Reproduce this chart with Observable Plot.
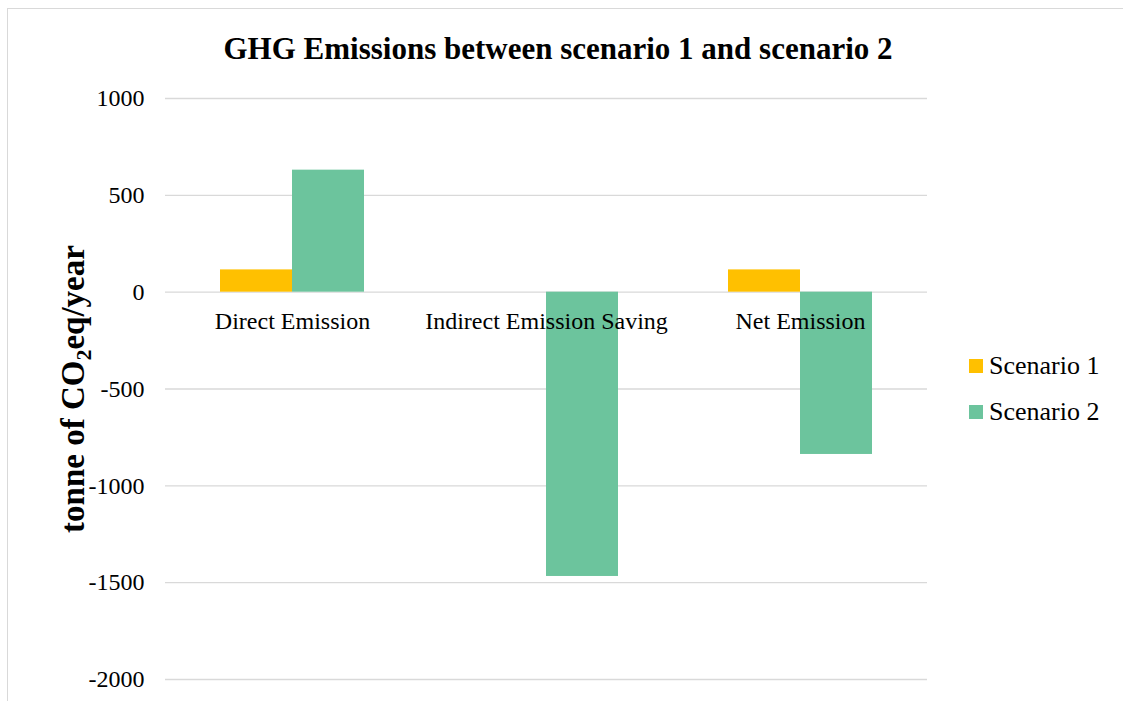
<!DOCTYPE html>
<html>
<head>
<meta charset="utf-8">
<script src="https://cdn.jsdelivr.net/npm/d3@7"></script>
<script src="https://cdn.jsdelivr.net/npm/@observablehq/plot@0.6"></script>
<style>
  body { margin: 0; background: #fff; font-family: "Liberation Serif", "Times New Roman", serif; }
  #wrap { position: relative; width: 1123px; height: 701px; overflow: hidden; background: #fff; }
  #frame { position: absolute; left: 7px; top: 8px; width: 1300px; height: 900px; border: 1.5px solid #d9d9d9; box-sizing: border-box; }
  #chart { position: absolute; left: 0; top: 0; }
  #title { position: absolute; left: 0; width: 1116px; top: 33px; line-height: 31px; text-align: center;
           font-weight: bold; font-size: 31px; color: #000; white-space: nowrap; }
  #ylab { position: absolute; left: 0; top: 0; }
  #legend { position: absolute; left: 969px; top: 349px; font-size: 26px; color: #000; }
  .item { display: flex; align-items: center; height: 33px; margin-bottom: 13px; }
  .sw { width: 14px; height: 14px; margin-right: 6px; }
</style>
</head>
<body>
<div id="wrap">
  <div id="frame"></div>
  <div id="chart"></div>
  <div id="title"></div>
  <svg id="ylab" width="1123" height="701"></svg>
  <div id="legend"></div>
</div>
<script>
const titleText = "GHG Emissions between scenario 1 and scenario 2";
const categories = ["Direct Emission", "Indirect Emission Saving", "Net Emission"];
const series = ["Scenario 1", "Scenario 2"];
const scenario1 = [115, 0, 115];
const scenario2 = [630, -1468, -838];
const colors = ["#FFC000", "#6CC49D"];
const yTicks = [1000, 500, 0, -500, -1000, -1500, -2000];

const data = categories.flatMap((c, i) => [
  {category: c, series: series[0], value: scenario1[i]},
  {category: c, series: series[1], value: scenario2[i]}
]);

const chart = Plot.plot({
  width: 1123,
  height: 701,
  marginLeft: 165,
  marginRight: 196,
  marginTop: 98,
  marginBottom: 22,
  style: "font-family:'Liberation Serif','Times New Roman',serif;font-size:24px;color:#000;background:transparent;overflow:visible;",
  fx: {domain: categories, padding: 0, axis: null, label: null},
  x: {domain: series, paddingInner: 0, paddingOuter: 0.742, axis: null},
  y: {domain: [-2000, 1000], ticks: yTicks, tickSize: 0, tickPadding: 21, label: null, tickFormat: d => String(d)},
  color: {domain: series, range: colors},
  marks: [
    Plot.ruleY(yTicks, {stroke: "#d9d9d9", strokeWidth: 1.3}),
    Plot.barY(data, {fx: "category", x: "series", y: "value", fill: "series"}),
    Plot.text(categories, {fx: d => d, y: 0, dy: 29, text: d => d, fontSize: 24, fill: "#000"})
  ]
});
document.getElementById("chart").appendChild(chart);

document.getElementById("title").textContent = titleText;

const ylab = d3.select("#ylab").append("text")
  .attr("transform", "translate(84,389) rotate(-90)")
  .attr("text-anchor", "middle")
  .attr("font-family", "'Liberation Serif','Times New Roman',serif")
  .attr("font-weight", "bold")
  .attr("font-size", 33)
  .attr("fill", "#000");
ylab.append("tspan").text("tonne of CO");
ylab.append("tspan").attr("dy", 7).attr("font-size", 22).text("2");
ylab.append("tspan").attr("dy", -7).text("eq/year");

const legend = d3.select("#legend");
series.forEach((s, i) => {
  const it = legend.append("div").attr("class", "item");
  it.append("div").attr("class", "sw").style("background", colors[i]);
  it.append("span").text(s);
});
</script>
</body>
</html>
